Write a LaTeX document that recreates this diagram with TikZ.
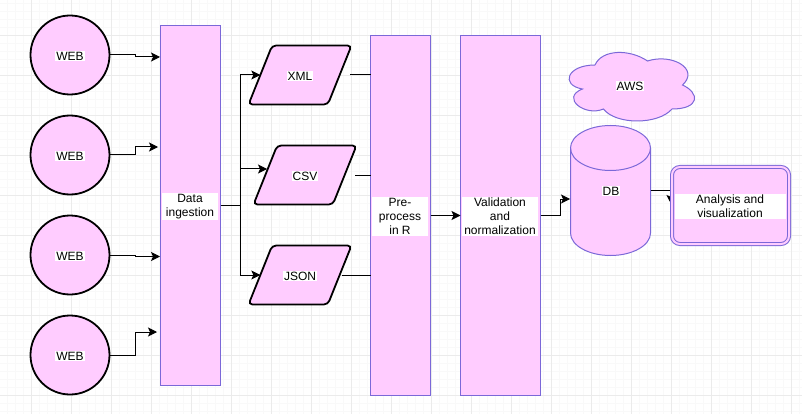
\documentclass[tikz,border=0pt]{standalone}
\usepackage{fontspec}
\setmainfont{Liberation Sans}
\usetikzlibrary{arrows.meta,positioning}
\usetikzlibrary{shapes.geometric}
\definecolor{shapepink}{HTML}{FFCCFF}
\definecolor{edgeblue}{HTML}{7B68D8}
\definecolor{gridgray}{HTML}{EBEBEB}
\definecolor{gridfaint}{HTML}{F9F9F9}
\tikzset{
  every node/.style={font=\fontsize{12}{14}\selectfont,outer sep=0pt},
  websrc/.style={circle,draw=black,line width=1.8pt,fill=shapepink,minimum size=79pt},
  stage/.style={rectangle,draw=edgeblue,line width=1pt,fill=shapepink},
  format/.style={trapezium,trapezium left angle=67,trapezium right angle=113,trapezium stretches=true,
    draw=black,line width=1.8pt,fill=shapepink,rounded corners=4pt,minimum width=103pt,minimum height=59pt},
  tag/.style={fill=white,inner sep=1pt,align=center},
  flow/.style={draw=black,line width=1pt,-{Stealth[length=9pt,width=9pt,inset=2pt]}},
  plainflow/.style={draw=black,line width=1pt}
}
\begin{document}
\begin{tikzpicture}[x=1pt,y=-1pt]
    \useasboundingbox (0,0) rectangle (802,414);
    \fill[white] (0,0) rectangle (802,414);
    % grid
    \foreach \gx in {7,15,...,799} \draw[gridfaint,line width=.8pt] (\gx,0) -- (\gx,414);
    \foreach \gy in {3,11,...,411} \draw[gridfaint,line width=.8pt] (0,\gy) -- (802,\gy);
    \foreach \gx in {31,71,...,791} \draw[gridgray,line width=.8pt] (\gx,0) -- (\gx,414);
    \foreach \gy in {35,75,...,395} \draw[gridgray,line width=.8pt] (0,\gy) -- (802,\gy);
    % sources
    \node[websrc] (web1) at (70,55) {};
    \node[websrc] (web2) at (70,155) {};
    \node[websrc] (web3) at (70,255) {};
    \node[websrc] (web4) at (70,355) {};
    \node[tag] (webtxt1) at (70,56) {WEB};
    \node[tag] (webtxt2) at (70,156) {WEB};
    \node[tag] (webtxt3) at (70,256) {WEB};
    \node[tag] (webtxt4) at (70,356) {WEB};
    % stages
    \node[stage,minimum width=60pt,minimum height=360pt] (data) at (190.5,205.5) {};
    \node[stage,minimum width=60pt,minimum height=360pt] (pre) at (400.5,215.5) {};
    \node[stage,minimum width=80pt,minimum height=360pt] (valid) at (500.5,215.5) {};
    \node[tag,minimum width=56pt] (datatxt) at (190,206.5) {Data\\ingestion};
    \node[tag,minimum width=56pt] (pretxt) at (400,216.5) {Pre-\\process\\in R};
    \node[tag,minimum width=76pt] (validtxt) at (500,216.5) {Validation\\and\\normalization};
    % formats
    \node[format] (xml) at (300,75) {};
    \node[format] (csv) at (305,175) {};
    \node[format] (json) at (300,275) {};
    \node[tag] (xmltxt) at (300,76) {XML};
    \node[tag] (csvtxt) at (305,176) {CSV};
    \node[tag] (jsontxt) at (300,276) {JSON};
    % cloud
    \begin{scope}[shift={(560,45)},x=1.4pt,y=-.8pt]
      \draw[edgeblue,line width=1pt,fill=shapepink] (25,25)
        .. controls (5,25) and (0,50) .. (16,55)
        .. controls (0,66) and (18,90) .. (31,80)
        .. controls (40,100) and (70,100) .. (80,80)
        .. controls (100,80) and (100,60) .. (87.5,50)
        .. controls (100,30) and (80,10) .. (62.5,20)
        .. controls (50,5) and (30,5) .. (25,25) -- cycle;
    \end{scope}
    \node[tag] (aws) at (630,86) {AWS};
    % database
    \node[minimum width=80pt,minimum height=130pt] (db) at (610.5,190.5) {};
    \draw[edgeblue,line width=1pt,fill=shapepink] (570.5,148)
      -- (570.5,233) .. controls (570.5,245.4) and (588.4,255.5) .. (610.5,255.5)
      .. controls (632.6,255.5) and (650.5,245.4) .. (650.5,233)
      -- (650.5,148) .. controls (650.5,135.6) and (632.6,125.5) .. (610.5,125.5)
      .. controls (588.4,125.5) and (570.5,135.6) .. (570.5,148) -- cycle;
    \draw[edgeblue,line width=1pt] (570.5,148)
      .. controls (570.5,160.4) and (588.4,170.5) .. (610.5,170.5)
      .. controls (632.6,170.5) and (650.5,160.4) .. (650.5,148);
    \node[tag] (dbtxt) at (611,191) {DB};
    % connectors
    \coordinate (in1) at (160,57);
    \coordinate (in2) at (158,147);
    \coordinate (in3) at (160,256.5);
    \coordinate (in4) at (157,332);
    \coordinate (bus) at (240,205.5);
    \coordinate (csvin) at (267,169);
    \coordinate (xmlout) at (350,75);
    \coordinate (csvout) at (355,175);
    \coordinate (jsonout) at (342,275);
    \coordinate (dbin) at (570,199);
    \coordinate (anin) at (671,204);
    \draw[flow] (web1.east) -- (135,55) |- (in1);
    \draw[flow] (web2.east) -- (135,155) |- (in2);
    \draw[flow] (web3.east) -- (135,255) |- (in3);
    \draw[flow] (web4.east) -- (135,355) |- (in4);
    \draw[plainflow] (data.east) -- (bus);
    \draw[flow] (bus) |- (xml.west);
    \draw[flow] (bus) |- (csvin);
    \draw[flow] (bus) |- (json.west);
    \draw[plainflow] (xmlout) -- (pre.west |- xmlout);
    \draw[plainflow] (csvout) -- (pre.west |- csvout);
    \draw[plainflow] (jsonout) -- (pre.west |- jsonout);
    \draw[flow] (pre.east) -- (valid.west);
    \draw[flow] (valid.east) -- (560,215.5) |- (dbin);
    \draw[flow] (db.east) -| (anin);
    % output
    \node[rectangle,draw=edgeblue,line width=1pt,double=shapepink,double distance=2pt,fill=shapepink,
      rounded corners=8pt,minimum width=117pt,minimum height=77pt] (out) at (730.5,205.5) {};
    \node[tag,minimum width=111pt] (outtxt) at (730,206.5) {Analysis and\\visualization};
\end{tikzpicture}
\end{document}
